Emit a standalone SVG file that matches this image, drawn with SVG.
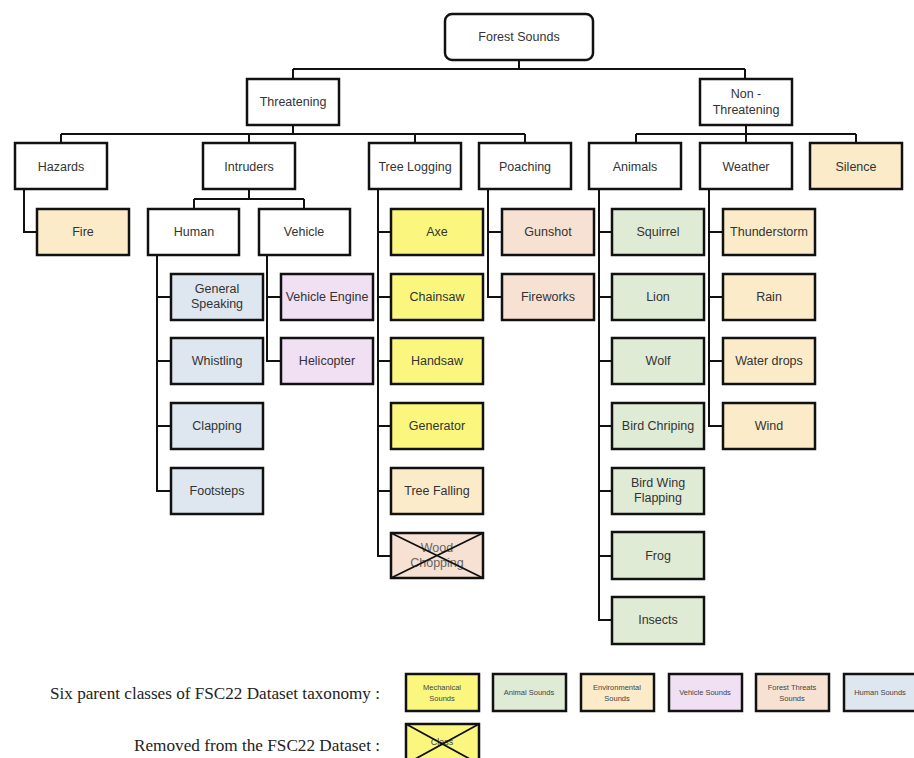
<svg xmlns="http://www.w3.org/2000/svg" width="914" height="758" viewBox="0 0 914 758">
<style>
.b{stroke:#111;stroke-width:2.5;fill:#fff}
.mech{fill:#FBF77E}.anim{fill:#E0EBD6}.env{fill:#FCEBC8}.veh{fill:#F1DFF4}.frt{fill:#F7E1D3}.hum{fill:#DEE6F0}
.t{font-family:"Liberation Sans",Arial,sans-serif;font-size:12.5px;fill:#333;text-anchor:middle}
.s{font-family:"Liberation Sans",Arial,sans-serif;font-size:7.5px;fill:#444;text-anchor:middle}
.sr{font-family:"Liberation Serif","Times New Roman",serif;font-size:17px;fill:#222;text-anchor:end}
.c{stroke:#111;stroke-width:2;fill:none}
.x{stroke:#111;stroke-width:1.8}
</style>
<g id="connectors">
<path class="c" d="M519,60V69M293,69H745M293,69V79M745,69V79"/>
<path class="c" d="M293,125V134M61,134H525M61,134V143M249,134V143M415,134V143M525,134V143"/>
<path class="c" d="M746,125V134M636,134H856M636,134V143M746,134V143M856,134V143"/>
<path class="c" d="M24,189V232H37"/>
<path class="c" d="M249,189V199M194,199H304M194,199V209M304,199V209"/>
<path class="c" d="M157,254V491H171M157,297H171M157,361H171M157,426H171"/>
<path class="c" d="M267,254V361H281M267,297H281"/>
<path class="c" d="M378,189V556H391M378,232H391M378,297H391M378,361H391M378,426H391M378,491H391"/>
<path class="c" d="M488,189V297H502M488,232H502"/>
<path class="c" d="M599,189V620H612M599,232H612M599,297H612M599,361H612M599,426H612M599,491H612M599,556H612"/>
<path class="c" d="M709,189V426H723M709,232H723M709,297H723M709,361H723"/>
</g>
<g id="forest-sounds"><rect class="b" x="445" y="14" width="148" height="46" rx="7"/><text class="t" x="519" y="41">Forest Sounds</text></g>
<g id="threatening"><rect class="b" x="247" y="79" width="92" height="46"/><text class="t" x="293" y="106">Threatening</text></g>
<g id="non-threatening"><rect class="b" x="700" y="79" width="92" height="46"/><text class="t" x="746" y="98">Non -</text><text class="t" x="746" y="114">Threatening</text></g>
<g id="hazards"><rect class="b" x="15" y="143" width="92" height="46"/><text class="t" x="61" y="171">Hazards</text></g>
<g id="intruders"><rect class="b" x="203" y="143" width="92" height="46"/><text class="t" x="249" y="171">Intruders</text></g>
<g id="tree-logging"><rect class="b" x="369" y="143" width="92" height="46"/><text class="t" x="415" y="171">Tree Logging</text></g>
<g id="poaching"><rect class="b" x="479" y="143" width="92" height="46"/><text class="t" x="525" y="171">Poaching</text></g>
<g id="animals"><rect class="b" x="589" y="143" width="92" height="46"/><text class="t" x="635" y="171">Animals</text></g>
<g id="weather"><rect class="b" x="700" y="143" width="92" height="46"/><text class="t" x="746" y="171">Weather</text></g>
<g id="silence"><rect class="b env" x="810" y="143" width="92" height="46"/><text class="t" x="856" y="171">Silence</text></g>
<g id="fire"><rect class="b env" x="37" y="209" width="92" height="46"/><text class="t" x="83" y="236">Fire</text></g>
<g id="human"><rect class="b" x="148" y="209" width="91" height="46"/><text class="t" x="194" y="236">Human</text></g>
<g id="vehicle"><rect class="b" x="259" y="209" width="91" height="46"/><text class="t" x="304" y="236">Vehicle</text></g>
<g id="general-speaking"><rect class="b hum" x="171" y="274" width="92" height="46"/><text class="t" x="217" y="293">General</text><text class="t" x="217" y="308">Speaking</text></g>
<g id="whistling"><rect class="b hum" x="171" y="338" width="92" height="46"/><text class="t" x="217" y="365">Whistling</text></g>
<g id="clapping"><rect class="b hum" x="171" y="403" width="92" height="46"/><text class="t" x="217" y="430">Clapping</text></g>
<g id="footsteps"><rect class="b hum" x="171" y="468" width="92" height="46"/><text class="t" x="217" y="495">Footsteps</text></g>
<g id="vehicle-engine"><rect class="b veh" x="281" y="274" width="92" height="46"/><text class="t" x="327" y="301">Vehicle Engine</text></g>
<g id="helicopter"><rect class="b veh" x="281" y="338" width="92" height="46"/><text class="t" x="327" y="365">Helicopter</text></g>
<g id="axe"><rect class="b mech" x="391" y="209" width="92" height="46"/><text class="t" x="437" y="236">Axe</text></g>
<g id="chainsaw"><rect class="b mech" x="391" y="274" width="92" height="46"/><text class="t" x="437" y="301">Chainsaw</text></g>
<g id="handsaw"><rect class="b mech" x="391" y="338" width="92" height="46"/><text class="t" x="437" y="365">Handsaw</text></g>
<g id="generator"><rect class="b mech" x="391" y="403" width="92" height="46"/><text class="t" x="437" y="430">Generator</text></g>
<g id="tree-falling"><rect class="b env" x="391" y="468" width="92" height="46"/><text class="t" x="437" y="495">Tree Falling</text></g>
<g id="wood-chopping"><rect class="b frt" x="391" y="533" width="92" height="45"/><text class="t" x="437" y="552" style="fill:#666">Wood</text><text class="t" x="437" y="567" style="fill:#666">Chopping</text><path class="x" d="M391,533L483,578M483,533L391,578"/></g>
<g id="gunshot"><rect class="b frt" x="502" y="209" width="92" height="46"/><text class="t" x="548" y="236">Gunshot</text></g>
<g id="fireworks"><rect class="b frt" x="502" y="274" width="92" height="46"/><text class="t" x="548" y="301">Fireworks</text></g>
<g id="squirrel"><rect class="b anim" x="612" y="209" width="92" height="46"/><text class="t" x="658" y="236">Squirrel</text></g>
<g id="lion"><rect class="b anim" x="612" y="274" width="92" height="46"/><text class="t" x="658" y="301">Lion</text></g>
<g id="wolf"><rect class="b anim" x="612" y="338" width="92" height="46"/><text class="t" x="658" y="365">Wolf</text></g>
<g id="bird-chriping"><rect class="b anim" x="612" y="403" width="92" height="46"/><text class="t" x="658" y="430">Bird Chriping</text></g>
<g id="bird-wing-flapping"><rect class="b anim" x="612" y="468" width="92" height="46"/><text class="t" x="658" y="487">Bird Wing</text><text class="t" x="658" y="502">Flapping</text></g>
<g id="frog"><rect class="b anim" x="612" y="532" width="92" height="47"/><text class="t" x="658" y="560">Frog</text></g>
<g id="insects"><rect class="b anim" x="612" y="597" width="92" height="47"/><text class="t" x="658" y="624">Insects</text></g>
<g id="thunderstorm"><rect class="b env" x="723" y="209" width="92" height="46"/><text class="t" x="769" y="236">Thunderstorm</text></g>
<g id="rain"><rect class="b env" x="723" y="274" width="92" height="46"/><text class="t" x="769" y="301">Rain</text></g>
<g id="water-drops"><rect class="b env" x="723" y="338" width="92" height="46"/><text class="t" x="769" y="365">Water drops</text></g>
<g id="wind"><rect class="b env" x="723" y="403" width="92" height="46"/><text class="t" x="769" y="430">Wind</text></g>
<g id="legend">
<text class="sr" x="380" y="699" textLength="330" lengthAdjust="spacingAndGlyphs">Six parent classes of FSC22 Dataset taxonomy :</text>
<text class="sr" x="380" y="751" textLength="246" lengthAdjust="spacingAndGlyphs">Removed from the FSC22 Dataset :</text>
<rect class="b mech" x="406" y="674" width="73" height="37"/><text class="s" x="442" y="690">Mechanical</text><text class="s" x="442" y="701">Sounds</text>
<rect class="b anim" x="493" y="674" width="73" height="37"/><text class="s" x="529" y="695">Animal Sounds</text>
<rect class="b env" x="581" y="674" width="73" height="37"/><text class="s" x="617" y="690">Environmental</text><text class="s" x="617" y="701">Sounds</text>
<rect class="b veh" x="669" y="674" width="73" height="37"/><text class="s" x="705" y="695">Vehicle Sounds</text>
<rect class="b frt" x="756" y="674" width="73" height="37"/><text class="s" x="792" y="690">Forest Threats</text><text class="s" x="792" y="701">Sounds</text>
<rect class="b hum" x="844" y="674" width="73" height="37"/><text class="s" x="880" y="695">Human Sounds</text>
<rect class="b mech" x="406" y="724" width="73" height="40"/><text class="s" x="442" y="745" style="font-size:9px">Class</text><path class="x" d="M406,724L479,764M479,724L406,764"/>
</g>
</svg>
